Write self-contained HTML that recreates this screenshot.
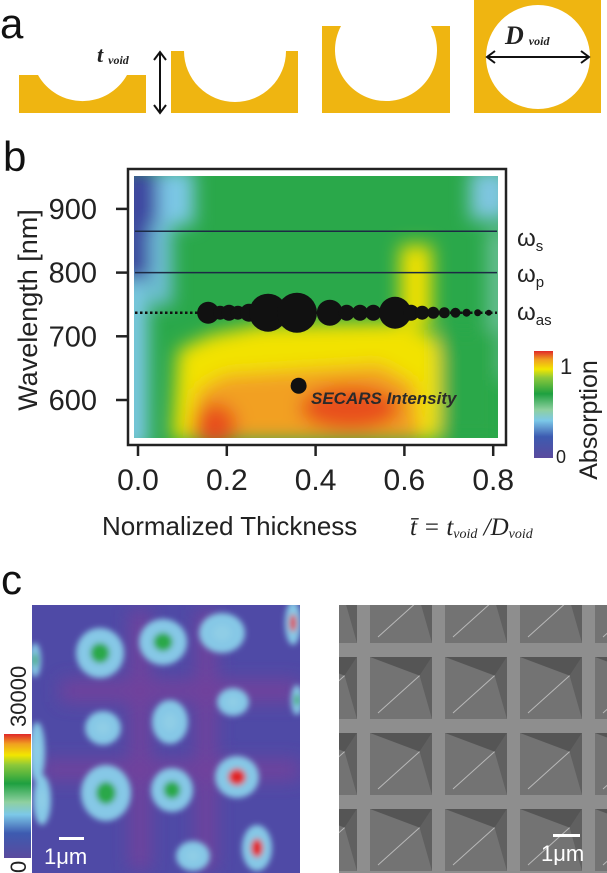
<!DOCTYPE html>
<html><head><meta charset="utf-8"><style>
html,body{margin:0;padding:0;background:#fff;}
body{width:607px;height:873px;overflow:hidden;position:relative;font-family:"Liberation Sans",sans-serif;}
svg{position:absolute;left:0;top:0;}
</style></head><body>
<svg width="607" height="873" viewBox="0 0 607 873">
<defs>
  <filter id="blur8" x="-50%" y="-50%" width="200%" height="200%"><feGaussianBlur stdDeviation="9"/></filter>
  <filter id="blur2" x="-50%" y="-50%" width="200%" height="200%"><feGaussianBlur stdDeviation="3"/></filter>
  <clipPath id="hmclip"><rect x="134" y="176" width="364" height="262"/></clipPath>
  <clipPath id="c1clip"><rect x="32" y="605" width="268" height="268"/></clipPath>
  <clipPath id="semclip"><rect x="339" y="605" width="268" height="268"/></clipPath>
  <linearGradient id="cbar" x1="0" y1="1" x2="0" y2="0">
    <stop offset="0" stop-color="#5a4a9e"/><stop offset="0.2" stop-color="#3d5bb0"/>
    <stop offset="0.35" stop-color="#7cc8e8"/><stop offset="0.45" stop-color="#8fd0a0"/>
    <stop offset="0.6" stop-color="#1ea040"/><stop offset="0.75" stop-color="#8cc83a"/>
    <stop offset="0.83" stop-color="#f2e600"/><stop offset="0.92" stop-color="#f0a020"/>
    <stop offset="1" stop-color="#e0282a"/>
  </linearGradient>
</defs>

<!-- Panel a -->
<text x="0" y="38" font-size="42" fill="#111">a</text>
<g fill="#efb511">
  <path d="M19,75 L38,75 A51,51 0 0 0 127,75 L146,75 L146,113 L19,113 Z"/>
  <path d="M171,51 L184,51 A51,51 0 0 0 286,51 L298,51 L298,113 L171,113 Z"/>
  <path d="M322,26 L341,26 A51,51 0 1 0 431,26 L450,26 L450,113 L322,113 Z"/>
  <path fill-rule="evenodd" d="M474,0 L601,0 L601,113 L474,113 Z M486,57 A52,52 0 1 0 590,57 A52,52 0 1 0 486,57 Z"/>
</g>
<g stroke="#111" stroke-width="2" fill="none">
  <line x1="160" y1="53" x2="160" y2="112"/>
  <polyline points="154,60 160,52 166,60"/><polyline points="154,105 160,113 166,105"/>
</g>
<text x="97" y="62" font-family="Liberation Serif,serif" font-style="italic" font-weight="bold" font-size="22" fill="#222">t<tspan font-size="12" dx="5" dy="2">void</tspan></text>
<g stroke="#111" stroke-width="2" fill="none">
  <line x1="488" y1="57" x2="588" y2="57"/>
  <polyline points="495,51 487,57 495,63"/><polyline points="581,51 589,57 581,63"/>
</g>
<text x="505" y="44" font-family="Liberation Serif,serif" font-style="italic" font-weight="bold" font-size="26" fill="#222">D<tspan font-size="12" dx="5" dy="1">void</tspan></text>

<!-- Panel b -->
<text x="3" y="171" font-size="42" fill="#111">b</text>
<g clip-path="url(#hmclip)">
  <rect x="134" y="176" width="364" height="262" fill="#2aa84a"/>
  <g filter="url(#blur8)">
    <rect x="120" y="170" width="40" height="110" fill="#3e45a0"/>
    <rect x="120" y="280" width="28" height="170" fill="#7cc8e6"/>
    <rect x="158" y="170" width="36" height="55" fill="#7cc8e6"/>
    <rect x="150" y="225" width="22" height="80" fill="#6fbfd8"/>
    <rect x="470" y="170" width="40" height="50" fill="#7fc6e0"/>
    <rect x="488" y="230" width="20" height="150" fill="#6cc09a"/>
    <path d="M172,440 L178,350 L210,335 L260,325 L400,322 L435,335 L445,370 L438,440 Z" fill="#f2e200"/>
    <rect x="400" y="245" width="32" height="80" fill="#eee000"/>
    <path d="M190,440 L198,390 L225,375 L300,370 L380,365 L415,385 L420,440 Z" fill="#f2a020"/>
    <ellipse cx="215" cy="425" rx="22" ry="22" fill="#e8501c"/>
    <ellipse cx="350" cy="408" rx="50" ry="22" fill="#e8501c"/>
    <rect x="440" y="330" width="60" height="110" fill="#2aa84a"/>
  </g>
</g>
<rect x="128" y="169" width="378" height="276" fill="none" stroke="#222" stroke-width="2.5"/>
<g id="axes"></g>
<g id="marks"></g>

<text transform="translate(37,310) rotate(-90)" text-anchor="middle" font-size="27" fill="#222">Wavelength [nm]</text>
<text x="102" y="535" font-size="26" fill="#222">Normalized Thickness</text>
<text x="410" y="535" font-family="Liberation Serif,serif" font-style="italic" font-size="25" fill="#222"><tspan>t̄ = t</tspan><tspan font-size="14" dy="3">void</tspan><tspan dy="-3"> /D</tspan><tspan font-size="14" dy="3">void</tspan></text>

<g font-size="24" fill="#222">
  <text x="517" y="246">ω<tspan font-size="15" dy="5">s</tspan></text>
  <text x="517" y="282">ω<tspan font-size="15" dy="5">p</tspan></text>
  <text x="517" y="320">ω<tspan font-size="15" dy="5">as</tspan></text>
</g>
<rect x="534" y="351" width="19" height="107" fill="url(#cbar)"/>
<text x="560" y="374" font-size="22" fill="#222">1</text>
<text x="556" y="463" font-size="18" fill="#222">0</text>
<text transform="translate(597,420) rotate(-90)" text-anchor="middle" font-size="25" fill="#222">Absorption</text>

<!-- Panel c -->
<text x="1" y="594" font-size="42" fill="#111">c</text>
<g clip-path="url(#c1clip)">
  <rect x="32" y="605" width="268" height="268" fill="#4f4aa6"/>
  <g filter="url(#blur8)" fill="#7a3f9a" opacity="0.8">
    <rect x="60" y="680" width="240" height="22"/><rect x="40" y="760" width="260" height="20"/>
    <rect x="130" y="610" width="20" height="260"/><rect x="196" y="610" width="20" height="260"/>
  </g>
  <g id="blobs" filter="url(#blur2)"></g>
</g>
<rect x="4" y="734" width="27" height="124" fill="url(#cbar)"/>
<text transform="translate(26,727) rotate(-90)" font-size="22" fill="#222">30000</text>
<text transform="translate(26,873) rotate(-90)" font-size="22" fill="#222">0</text>
<rect x="59" y="837" width="25" height="3" fill="#fff"/>
<text x="44" y="864" font-size="22" fill="#fff">1μm</text>

<g clip-path="url(#semclip)">
  <rect x="339" y="605" width="268" height="268" fill="#8e8e8e"/>
  <g id="pyr"></g>
</g>
<rect x="553" y="834" width="27" height="3" fill="#fff"/>
<text x="541" y="861" font-size="22" fill="#fff">1μm</text>
</svg>
<script>
const NS='http://www.w3.org/2000/svg';
const xTicks=[0.0,0.2,0.4,0.6,0.8];
const xTickLabels=['0.0','0.2','0.4','0.6','0.8'];
const yTicks=[600,700,800,900];
const yTickLabels=['600','700','800','900'];
const omegaLines=[865,800];
const omegaAs=[737];
const bubbleThickness=[0.158,0.185,0.205,0.225,0.250,0.293,0.358,0.432,0.470,0.500,0.530,0.579,0.615,0.640,0.665,0.690,0.715,0.740,0.765,0.790];
const bubbleIntensity=[11,7,8,7,9,19,20,13,8,8,8,16,8,7,6,5.5,5,4,3.5,3];
const legendBubble=[0.355,624];
function xs(v){return 138+v*444;}
function ys(v){return 400-(v-600)*0.637;}
function mk(tag,attrs,parent){const e=document.createElementNS(NS,tag);for(const k in attrs)e.setAttribute(k,attrs[k]);parent.appendChild(e);return e;}
const axes=document.getElementById('axes');
const marks=document.getElementById('marks');
xTicks.forEach((t,i)=>{
  const l=mk('line',{x1:xs(t),x2:xs(t),y1:445,y2:456,stroke:'#222','stroke-width':2.5},axes);
  
  
  const tx=mk('text',{x:xs(t),y:490,'text-anchor':'middle','font-size':30,fill:'#222'},axes);
  tx.textContent=xTickLabels[i];
  
  
});
yTicks.forEach((t,i)=>{
  const l=mk('line',{x1:116,x2:128,y1:ys(t),y2:ys(t),stroke:'#222','stroke-width':2.5},axes);
  
  
  const tx=mk('text',{x:97,y:ys(t)+10,'text-anchor':'end','font-size':29,fill:'#222'},axes);
  tx.textContent=yTickLabels[i];
  
  
});
omegaLines.forEach(w=>{
  const l=mk('line',{x1:135,x2:497,y1:ys(w),y2:ys(w),stroke:'#1c2a44','stroke-width':1.5},marks);
  
  
});
omegaAs.forEach(w=>{
  const l=mk('line',{x1:135,x2:497,y1:ys(w),y2:ys(w),stroke:'#111','stroke-width':2.5,'stroke-dasharray':'2.5,2.5'},marks);
  
  
});
bubbleThickness.forEach((t,i)=>{
  const c=mk('circle',{cx:xs(t),cy:ys(omegaAs[0]),r:bubbleIntensity[i],fill:'#111'},marks);
  
  
});
const lg=mk('circle',{cx:xs(legendBubble[0])+3,cy:ys(legendBubble[1])+1,r:8,fill:'#111'},marks);


const lt=mk('text',{x:311,y:404,'font-size':17,'font-weight':'bold','font-style':'italic',fill:'#2a2a2a'},marks);
lt.textContent='SECARS Intensity';



const blobX=[100,163,222,293,170,103,233,37,106,172,237,42,257,193,35,297];
const blobY=[653,642,633,623,722,728,702,752,793,790,777,800,848,856,660,700];
const blobW=[48,48,46,16,36,36,32,16,50,42,44,18,30,34,12,12];
const blobH=[50,46,40,44,44,34,28,60,56,44,42,50,46,30,34,30];
const blobCore=['#2aa84a','#2aa84a','#8fcde6','#e02828','#8fcde6','#8fcde6','#8fcde6','#8fcde6','#2aa84a','#2aa84a','#e02828','#8fcde6','#e02828','#8fcde6','#2aa84a','#2aa84a'];
const bg=document.getElementById('blobs');
blobX.forEach((x,i)=>{
  const r=mk('ellipse',{cx:x,cy:blobY[i],rx:blobW[i]/2,ry:blobH[i]/2,fill:'#86c8e6'},bg);
  
  
  const c=mk('ellipse',{cx:x,cy:blobY[i],rx:blobW[i]/5,ry:blobH[i]/5,fill:blobCore[i]},bg);
  
  
});
const pyrCols=[-1,0,1,2,3];
const pyrRows=[-1,0,1,2];
const pg=document.getElementById('pyr');
pyrRows.forEach(r=>pyrCols.forEach(c=>{
  const x=370+c*75, y=657+r*76, s=62;
  const g=mk('g',{},pg);
  
  
  mk('rect',{x:x,y:y,width:s,height:s,fill:'#737373'},g);
  mk('polygon',{points:`${x},${y} ${x+s},${y} ${x+s*0.8},${y+s*0.3}`,fill:'#555'},g);
  mk('polygon',{points:`${x+s},${y} ${x+s},${y+s} ${x+s*0.8},${y+s*0.3}`,fill:'#606060'},g);
  mk('line',{x1:x+8,y1:y+s-6,x2:x+s*0.8,y2:y+s*0.3,stroke:'#b8b8b8','stroke-width':1},g);
}));
</script>
</body></html>
